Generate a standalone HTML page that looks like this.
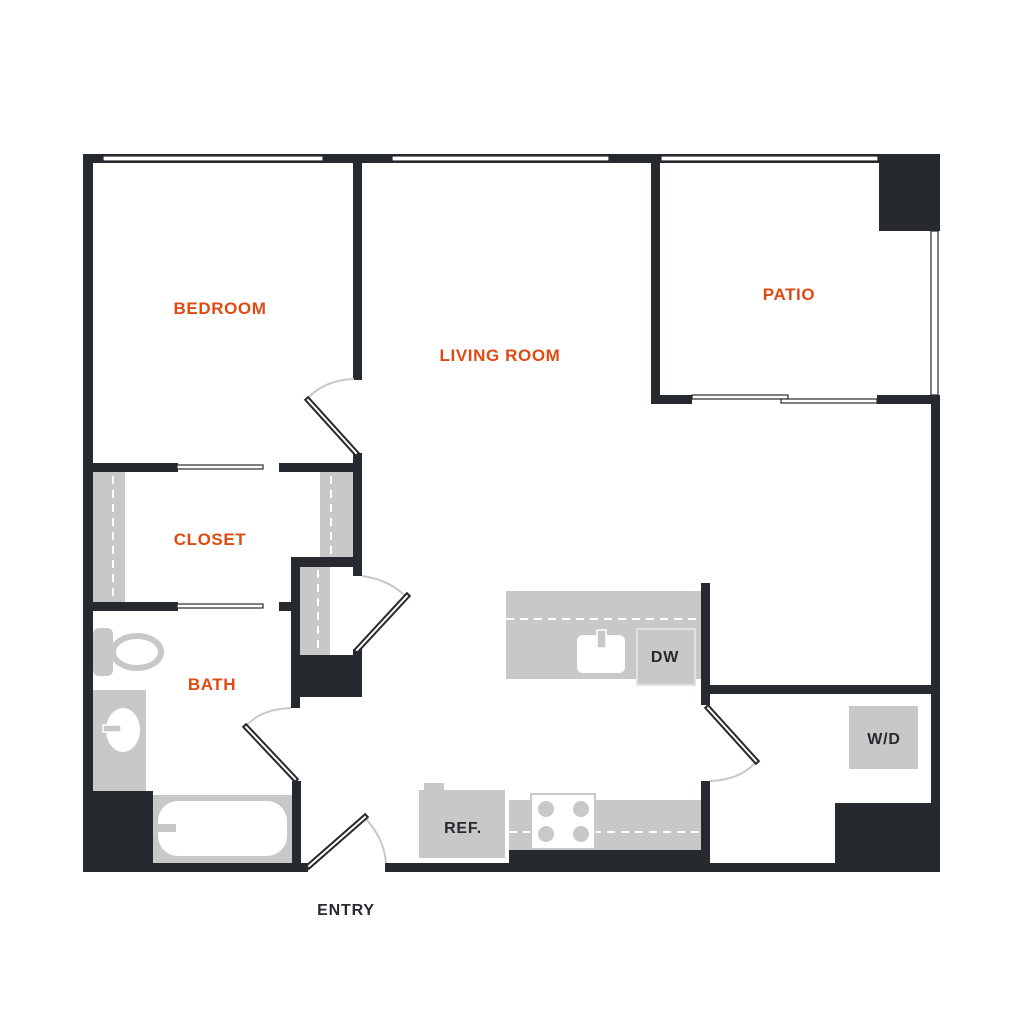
<!DOCTYPE html>
<html><head><meta charset="utf-8"><style>
html,body{margin:0;padding:0;background:#fff;width:1024px;height:1024px;overflow:hidden}
svg{display:block}
.o{font-family:"Liberation Sans",sans-serif;font-weight:bold;fill:#e04a12;font-size:17px;letter-spacing:0.6px;text-anchor:middle}
.d{font-family:"Liberation Sans",sans-serif;font-weight:bold;fill:#26292d;font-size:16px;letter-spacing:0.8px;text-anchor:middle}
</style></head><body>
<svg width="1024" height="1024" viewBox="0 0 1024 1024" xmlns="http://www.w3.org/2000/svg">
<rect width="1024" height="1024" fill="#fff"/>
<g fill="#c8c8c8">
 <rect x="93" y="472" width="32" height="130"/>
 <rect x="320" y="472" width="33" height="85"/>
 <rect x="300" y="567" width="30" height="88"/>
 <rect x="93" y="628" width="20" height="48" rx="6"/>
 <rect x="93" y="690" width="53" height="101"/>
 <rect x="153" y="795" width="139" height="68"/>
 <rect x="506" y="591" width="195" height="88"/>
 <rect x="509" y="800" width="192" height="50"/>
 <rect x="419" y="790" width="86" height="68"/>
 <rect x="424" y="783" width="20" height="7"/>
 <rect x="849" y="706" width="69" height="63"/>
</g>
<g stroke="#fff" stroke-width="2" stroke-dasharray="8,6" fill="none">
 <line x1="113" y1="476" x2="113" y2="600"/>
 <line x1="331" y1="476" x2="331" y2="555"/>
 <line x1="318" y1="570" x2="318" y2="653"/>
 <line x1="506" y1="619" x2="700" y2="619"/>
 <line x1="509" y1="832" x2="700" y2="832"/>
</g>
<ellipse cx="137" cy="652" rx="24" ry="16" fill="none" stroke="#c8c8c8" stroke-width="6"/>
<ellipse cx="123" cy="730" rx="17" ry="22" fill="#fff"/>
<rect x="103" y="725" width="18" height="7" fill="#c8c8c8" stroke="#fff" stroke-width="1.5"/>
<rect x="158" y="801" width="129" height="55" rx="20" fill="#fff"/>
<rect x="157" y="824" width="19" height="8" fill="#c8c8c8"/>
<rect x="577" y="635" width="48" height="38" rx="6" fill="#fff"/>
<rect x="597" y="630" width="9" height="18" fill="#c8c8c8" stroke="#fff" stroke-width="1.5"/>
<rect x="637" y="629" width="58" height="56" fill="#c8c8c8" stroke="#e2e2e2" stroke-width="2"/>
<rect x="531" y="794" width="64" height="55" fill="#fff" stroke="#c8c8c8" stroke-width="2"/>
<g fill="#c8c8c8"><circle cx="546" cy="809" r="8"/><circle cx="581" cy="809" r="8"/><circle cx="546" cy="834" r="8"/><circle cx="581" cy="834" r="8"/></g>

<g fill="#26292d">
 <rect x="83" y="154" width="857" height="9"/>
 <rect x="83" y="154" width="10" height="718"/>
 <rect x="83" y="863" width="225" height="9"/>
 <rect x="385" y="863" width="555" height="9"/>
 <rect x="931" y="395" width="9" height="477"/>
 <rect x="879" y="154" width="61" height="77"/>
 <rect x="353" y="163" width="9" height="217"/>
 <rect x="353" y="453" width="9" height="123"/>
 <rect x="651" y="163" width="9" height="241"/>
 <rect x="651" y="395" width="41" height="9"/>
 <rect x="877" y="395" width="63" height="9"/>
 <rect x="93" y="463" width="85" height="9"/>
 <rect x="279" y="463" width="83" height="9"/>
 <rect x="93" y="602" width="85" height="9"/>
 <rect x="279" y="602" width="12" height="9"/>
 <rect x="291" y="557" width="9" height="151"/>
 <rect x="291" y="557" width="62" height="10"/>
 <rect x="291" y="655" width="71" height="42"/>
 <rect x="353" y="649" width="9" height="8"/>
 <rect x="292" y="781" width="9" height="91"/>
 <rect x="83" y="791" width="70" height="81"/>
 <rect x="701" y="583" width="9" height="122"/>
 <rect x="701" y="685" width="239" height="9"/>
 <rect x="701" y="781" width="9" height="91"/>
 <rect x="509" y="850" width="192" height="22"/>
 <rect x="835" y="803" width="105" height="69"/>
</g>
<g fill="#fff" stroke="#26292d" stroke-width="1.2">
 <rect x="103" y="156" width="220" height="5"/>
 <rect x="392" y="156" width="217" height="5"/>
 <rect x="661" y="156" width="217" height="5"/>
 <rect x="931" y="231" width="7" height="164"/>
 <rect x="692" y="395" width="96" height="4"/>
 <rect x="781" y="399" width="96" height="4"/>
 <rect x="177" y="465" width="86" height="4"/>
 <rect x="177" y="604" width="86" height="4"/>
</g>
<g fill="none" stroke="#c8c8c8" stroke-width="2">
 <path d="M354,379 Q325,380 308,398"/>
 <path d="M362,576 Q390,580 405,596"/>
 <path d="M291,708 Q262,709 247,725"/>
 <path d="M365,818 Q384,838 386,863"/>
 <path d="M710,781 Q740,780 756,762"/>
</g>
<g stroke-linecap="square">
 <g stroke="#26292d" stroke-width="6">
  <line x1="308" y1="400" x2="356" y2="453"/>
  <line x1="357" y1="650" x2="407" y2="596"/>
  <line x1="246" y1="727" x2="295" y2="779"/>
  <line x1="309" y1="866" x2="365" y2="817"/>
  <line x1="708" y1="708" x2="756" y2="761"/>
 </g>
 <g stroke="#fff" stroke-width="2">
  <line x1="308" y1="400" x2="356" y2="453"/>
  <line x1="357" y1="650" x2="407" y2="596"/>
  <line x1="246" y1="727" x2="295" y2="779"/>
  <line x1="309" y1="866" x2="365" y2="817"/>
  <line x1="708" y1="708" x2="756" y2="761"/>
 </g>
</g>
<text class="o" x="220" y="314">BEDROOM</text>
<text class="o" x="500" y="361">LIVING ROOM</text>
<text class="o" x="789" y="300">PATIO</text>
<text class="o" x="210" y="545">CLOSET</text>
<text class="o" x="212" y="690">BATH</text>
<text class="d" x="346" y="915">ENTRY</text>
<text class="d" x="665" y="662">DW</text>
<text class="d" x="884" y="744">W/D</text>
<text class="d" x="463" y="833">REF.</text>
</svg>
</body></html>
